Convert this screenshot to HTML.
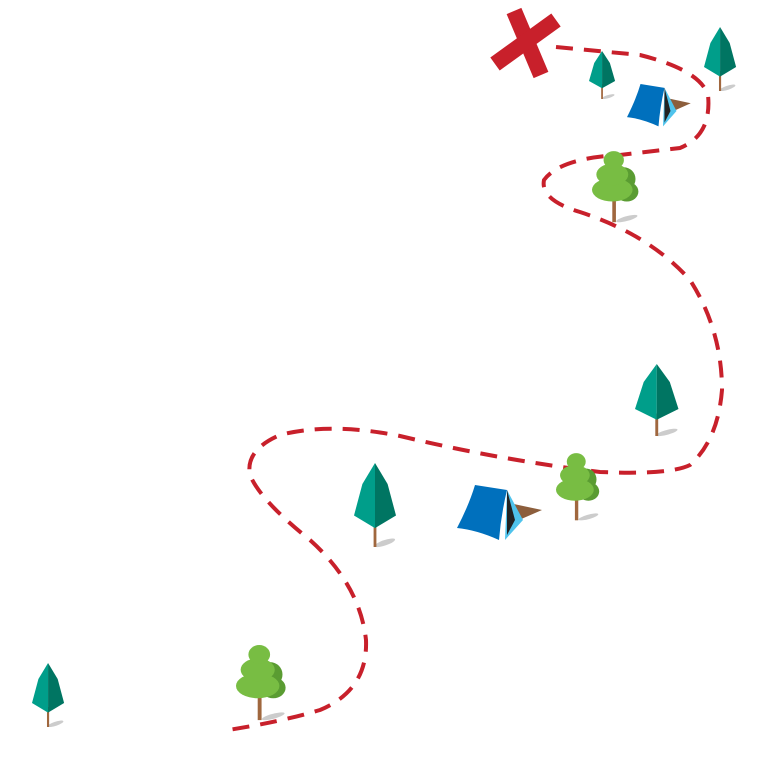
<!DOCTYPE html>
<html><head><style>html,body{margin:0;padding:0;background:#fff}svg{display:block}</style></head>
<body>
<svg width="768" height="768" viewBox="0 0 768 768" xmlns="http://www.w3.org/2000/svg">
<defs>
<g id="pine">
 <ellipse cx="22" cy="76" rx="8" ry="2.5" fill="#ccc" transform="rotate(-25 22 76)"/>
 <rect x="14" y="55" width="2" height="25" fill="#a0673e"/>
 <polygon points="15,0 6,20 0,50 15,62" fill="#009e8a"/>
 <polygon points="15,0 24,20 30,50 15,62" fill="#007562"/>
</g>
<g id="leaf">
 <ellipse cx="24" cy="74" rx="8" ry="2.5" fill="#ccc" transform="rotate(-25 24 74)"/>
 <rect x="14" y="45" width="2.5" height="33" fill="#a0673e"/>
 <ellipse cx="22" cy="30" rx="8" ry="13" fill="#5a9c32"/>
 <ellipse cx="24" cy="44" rx="8" ry="11" fill="#5a9c32"/>
 <ellipse cx="14" cy="42" rx="14" ry="13" fill="#78bd43"/>
 <ellipse cx="14" cy="25" rx="11" ry="12" fill="#78bd43"/>
 <ellipse cx="15" cy="9" rx="7" ry="10" fill="#78bd43"/>
</g>
<g id="tent">
 <polygon points="52,18 85,25 62,35" fill="#8c5e3c"/>
 <polygon points="50,5 66,35 48,55" fill="#4fc3ec"/>
 <polygon points="50,5 58,35 50,50" fill="#222"/>
 <path d="M18,0 L50,5 Q44,30 42,55 Q20,45 0,43 Q12,20 18,0Z" fill="#0070bd"/>
</g>
</defs>
<path d="M556,47 L640,55 Q700,70 708,95 Q712,135 680,148 L620,155 Q560,158 544,180 Q540,200 580,212 Q650,235 690,280 Q722,330 722,390 Q718,440 690,465 Q670,475 600,472 Q500,460 400,436 Q330,422 280,435 Q245,450 250,475 Q260,500 310,540 Q360,585 366,640 Q368,690 320,710 Q280,722 228,730" fill="none" stroke="#c8202b" stroke-width="4" stroke-dasharray="17,11"/>
<g stroke="#c8202b" stroke-width="16">
 <line x1="514" y1="11" x2="541" y2="75"/>
 <line x1="495" y1="64" x2="556" y2="20"/>
</g>
<use href="#pine" transform="translate(704,27) scale(1.07,0.8)"/>
<use href="#pine" transform="translate(589,51) scale(0.87,0.6)"/>
<use href="#pine" transform="translate(635,364) scale(1.45,0.9)"/>
<use href="#pine" transform="translate(354,463) scale(1.4,1.05)"/>
<use href="#pine" transform="translate(32,663) scale(1.07,0.8)"/>
<use href="#leaf" transform="translate(592,152) scale(1.45,0.9)"/>
<use href="#leaf" transform="translate(556,454) scale(1.35,0.85)"/>
<use href="#leaf" transform="translate(236,646) scale(1.55,0.95)"/>
<use href="#tent" transform="translate(627,84) scale(0.75,0.77)"/>
<use href="#tent" transform="translate(457,485) scale(1.0,1.0)"/>
</svg>
</body></html>
